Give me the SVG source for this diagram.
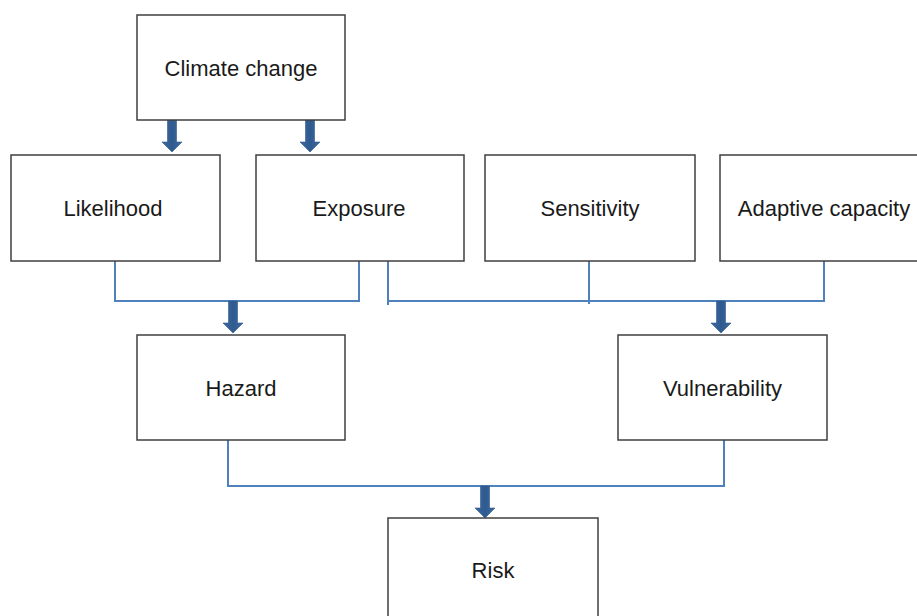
<svg xmlns="http://www.w3.org/2000/svg" width="917" height="616" viewBox="0 0 917 616">
  <style>
    .box { fill: #ffffff; stroke: #3f3f3f; stroke-width: 1.5; }
    .lbl { font-family: "Liberation Sans", Arial, sans-serif; font-size: 22px; fill: #1a1a1a; text-anchor: middle; }
    .link { fill: none; stroke: #4f81bd; stroke-width: 2; }
    .arrow { fill: url(#arrowFill); stroke: #2f5788; stroke-width: 0.6; }
  </style>
  <defs>
    <linearGradient id="arrowFill" x1="0" y1="0" x2="1" y2="0">
      <stop offset="0" stop-color="#3e6aa3"/>
      <stop offset="0.5" stop-color="#2f5a8e"/>
      <stop offset="1" stop-color="#3e6aa3"/>
    </linearGradient>
    <!-- block arrow pointing down, top at y=0, tip at y=32 -->
    <path id="downArrow" class="arrow" d="M-4.5,0 H4.5 V22 H10 L0,32 L-10,22 H-4.5 Z"/>
  </defs>

  <rect width="917" height="616" fill="#ffffff"/>

  <g id="connectors">
    <!-- Likelihood + Exposure -> Hazard -->
    <path class="link" d="M115,261 V301 H359 V261"/>
    <!-- Exposure + Sensitivity + Adaptive capacity -> Vulnerability -->
    <path class="link" d="M388,261 V305"/>
    <path class="link" d="M589,261 V304"/>
    <path class="link" d="M388,301 H824 V261"/>
    <!-- Hazard + Vulnerability -> Risk -->
    <path class="link" d="M228,440 V486 H724 V440"/>
    <!-- block arrows -->
    <use href="#downArrow" x="172" y="120"/>
    <use href="#downArrow" x="310" y="120"/>
    <use href="#downArrow" x="233" y="301"/>
    <use href="#downArrow" x="721" y="301"/>
    <use href="#downArrow" x="485" y="486"/>
  </g>

  <g id="climate-change">
    <rect class="box" x="137" y="15" width="208" height="105"/>
    <text class="lbl" x="241" y="76">Climate change</text>
  </g>
  <g id="likelihood">
    <rect class="box" x="11" y="155" width="209" height="106"/>
    <text class="lbl" x="113" y="216">Likelihood</text>
  </g>
  <g id="exposure">
    <rect class="box" x="256" y="155" width="208" height="106"/>
    <text class="lbl" x="359" y="216">Exposure</text>
  </g>
  <g id="sensitivity">
    <rect class="box" x="485" y="155" width="210" height="106"/>
    <text class="lbl" x="590" y="216">Sensitivity</text>
  </g>
  <g id="adaptive-capacity">
    <rect class="box" x="720" y="155" width="209" height="106"/>
    <text class="lbl" x="824" y="216">Adaptive capacity</text>
  </g>
  <g id="hazard">
    <rect class="box" x="137" y="335" width="208" height="105"/>
    <text class="lbl" x="241" y="396">Hazard</text>
  </g>
  <g id="vulnerability">
    <rect class="box" x="618" y="335" width="209" height="105"/>
    <text class="lbl" x="722.5" y="396">Vulnerability</text>
  </g>
  <g id="risk">
    <rect class="box" x="388" y="518" width="210" height="106"/>
    <text class="lbl" x="493" y="578">Risk</text>
  </g>
</svg>
